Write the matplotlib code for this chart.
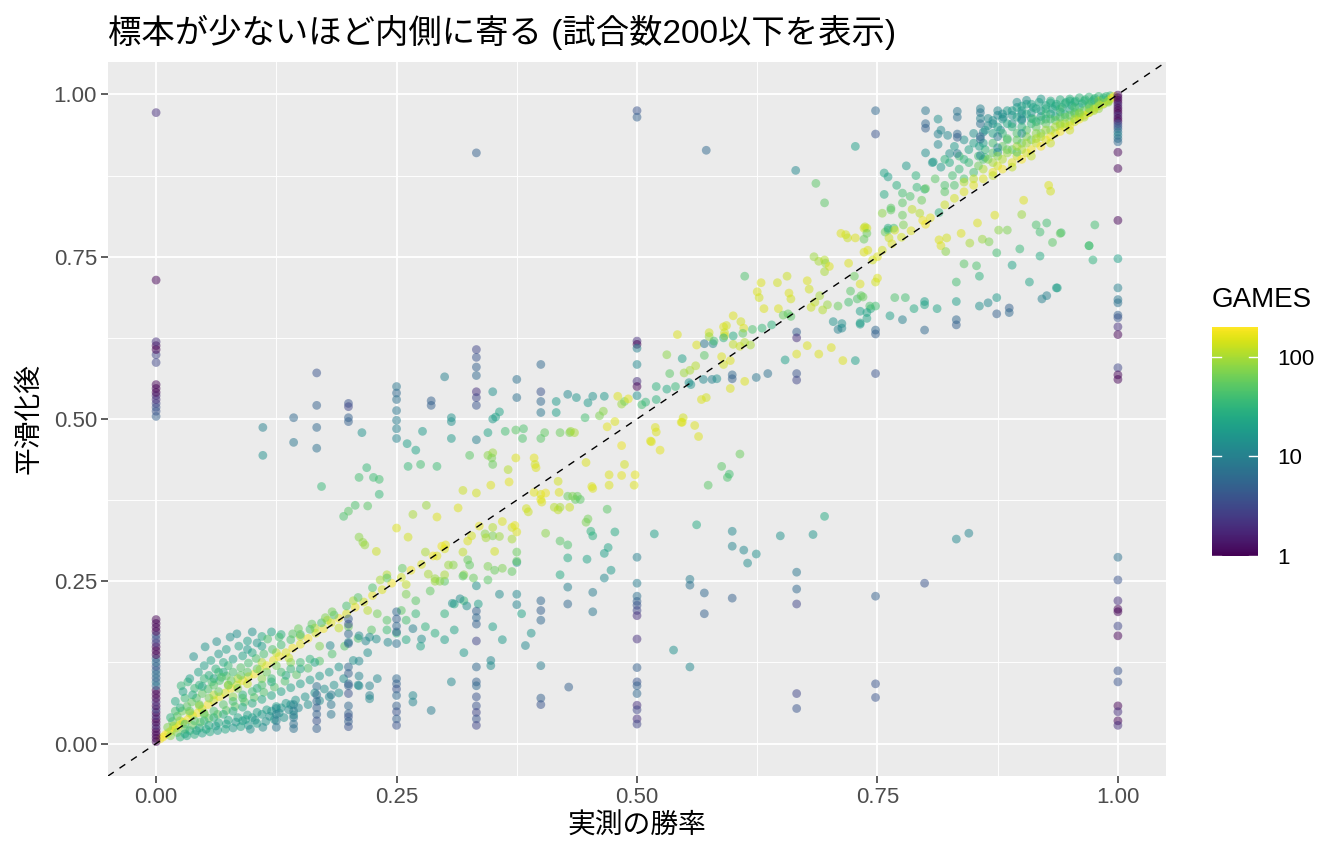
import numpy as np
import matplotlib.pyplot as plt
from matplotlib.colors import LogNorm
from matplotlib.cm import ScalarMappable

plt.rcParams['font.family'] = ['Liberation Sans', 'Noto Sans CJK JP']

# x = 0 column
col0_y = [0.003, 0.008, 0.013, 0.018, 0.023, 0.028, 0.033, 0.038, 0.043, 0.048, 0.053, 0.058,
          0.064, 0.070, 0.076, 0.082, 0.089, 0.095, 0.101, 0.107, 0.113, 0.119, 0.125, 0.131,
          0.137, 0.143, 0.149, 0.155, 0.161, 0.167, 0.173, 0.179, 0.185, 0.191,
          0.504, 0.512, 0.518, 0.524, 0.530, 0.536, 0.541, 0.547, 0.553, 0.587, 0.599, 0.607,
          0.613, 0.619, 0.714, 0.972]
col0_g = [1, 1, 1, 1, 1, 2, 1, 1, 2, 1, 3, 1, 2, 1, 1, 1, 6, 8, 5, 7, 6, 4, 7, 5, 1, 1, 1, 2,
          3, 4, 1, 1, 1, 1,
          5, 4, 4, 3, 2, 2, 1, 1, 1, 3, 3, 1, 1, 2, 1, 2]

# x = 1 column
col1_y = [0.999, 0.995, 0.991, 0.987, 0.983, 0.979, 0.975, 0.971, 0.967, 0.963,
          0.959, 0.955, 0.951, 0.947, 0.942, 0.937, 0.932, 0.927, 0.911, 0.886,
          0.806, 0.747, 0.702, 0.684, 0.679, 0.660, 0.656, 0.642, 0.630, 0.579,
          0.568, 0.561, 0.287, 0.252, 0.220, 0.207, 0.203, 0.181, 0.166, 0.112,
          0.095, 0.058, 0.049, 0.035, 0.028]
col1_g = [1, 1, 1, 1, 2, 1, 1, 1, 2, 1,
          1, 3, 4, 5, 8, 10, 7, 6, 1, 1,
          1, 20, 10, 8, 7, 5, 4, 2, 1, 3,
          1, 1, 7, 4, 2, 1, 1, 3, 1, 4,
          4, 1, 2, 1, 2]

# small-sample columns at simple fractions
cols = [
    (0.125, 0.054, 12), (0.125, 0.045, 10), (0.125, 0.035, 9), (0.125, 0.025, 8),
    (0.143, 0.060, 10), (0.143, 0.050, 9), (0.143, 0.040, 8), (0.143, 0.030, 7), (0.143, 0.023, 7),
    (0.143, 0.502, 6), (0.143, 0.464, 8), (0.111, 0.487, 10), (0.111, 0.444, 14),
    (0.167, 0.088, 7), (0.167, 0.075, 6), (0.167, 0.065, 6), (0.167, 0.055, 5), (0.167, 0.045, 5),
    (0.167, 0.035, 4), (0.167, 0.023, 5),
    (0.167, 0.571, 4), (0.167, 0.521, 5), (0.167, 0.487, 6), (0.167, 0.455, 7),
    (0.182, 0.075, 9), (0.182, 0.060, 8), (0.182, 0.045, 8),
    (0.2, 0.192, 5), (0.2, 0.184, 4), (0.2, 0.169, 6), (0.2, 0.154, 5), (0.2, 0.118, 6),
    (0.2, 0.108, 5), (0.2, 0.092, 6), (0.2, 0.089, 5), (0.2, 0.077, 4), (0.2, 0.058, 6),
    (0.2, 0.046, 5), (0.2, 0.041, 4), (0.2, 0.034, 5), (0.2, 0.026, 4),
    (0.2, 0.524, 4), (0.2, 0.519, 3), (0.2, 0.502, 5), (0.2, 0.496, 5),
    (0.211, 0.166, 12), (0.211, 0.127, 12), (0.211, 0.104, 11), (0.211, 0.089, 12),
    (0.222, 0.164, 13), (0.222, 0.089, 11), (0.222, 0.074, 10), (0.222, 0.069, 12),
    (0.25, 0.203, 6), (0.25, 0.192, 5), (0.25, 0.181, 6), (0.25, 0.172, 5), (0.25, 0.154, 7),
    (0.25, 0.100, 6), (0.25, 0.092, 5), (0.25, 0.084, 4), (0.25, 0.074, 6), (0.25, 0.058, 5),
    (0.25, 0.049, 4), (0.25, 0.038, 5), (0.25, 0.028, 4),
    (0.25, 0.550, 8), (0.25, 0.540, 6), (0.25, 0.530, 7), (0.25, 0.513, 8), (0.25, 0.498, 9),
    (0.25, 0.485, 10), (0.25, 0.470, 11),
    (0.267, 0.177, 10), (0.267, 0.074, 12), (0.267, 0.064, 11), (0.276, 0.161, 14),
    (0.286, 0.051, 9), (0.286, 0.528, 5), (0.286, 0.521, 5),
    (0.307, 0.095, 12), (0.308, 0.216, 15), (0.316, 0.223, 13), (0.323, 0.212, 14),
    (0.333, 0.204, 5), (0.333, 0.194, 6), (0.333, 0.184, 5), (0.333, 0.158, 3), (0.333, 0.118, 6),
    (0.333, 0.095, 5), (0.333, 0.089, 6), (0.333, 0.072, 4), (0.333, 0.058, 4), (0.333, 0.048, 3),
    (0.333, 0.038, 4), (0.333, 0.028, 3),
    (0.333, 0.607, 3), (0.333, 0.595, 4), (0.333, 0.580, 5), (0.333, 0.567, 6), (0.333, 0.542, 2),
    (0.333, 0.533, 3), (0.333, 0.521, 4), (0.333, 0.468, 10), (0.333, 0.910, 5),
    (0.348, 0.128, 12), (0.348, 0.120, 13), (0.357, 0.230, 13),
    (0.375, 0.230, 12), (0.375, 0.214, 11), (0.375, 0.561, 7), (0.375, 0.533, 7), (0.384, 0.151, 12),
    (0.4, 0.220, 6), (0.4, 0.205, 5), (0.4, 0.190, 6), (0.4, 0.120, 9), (0.4, 0.070, 5), (0.4, 0.060, 4),
    (0.4, 0.584, 6), (0.4, 0.542, 4), (0.4, 0.527, 6), (0.4, 0.510, 8),
    (0.429, 0.087, 5), (0.428, 0.241, 10), (0.428, 0.215, 6), (0.454, 0.233, 9), (0.454, 0.203, 8),
    (0.5, 0.975, 4), (0.5, 0.965, 5), (0.5, 0.620, 2), (0.5, 0.615, 1), (0.5, 0.609, 10),
    (0.5, 0.584, 12), (0.5, 0.558, 2), (0.5, 0.550, 1), (0.5, 0.536, 14),
    (0.5, 0.287, 10), (0.5, 0.247, 9), (0.5, 0.227, 7), (0.5, 0.219, 5), (0.5, 0.213, 4),
    (0.5, 0.205, 3), (0.5, 0.197, 2), (0.5, 0.161, 2), (0.5, 0.117, 5), (0.5, 0.095, 4),
    (0.5, 0.089, 5), (0.5, 0.077, 6), (0.5, 0.059, 2), (0.5, 0.052, 3), (0.5, 0.038, 2), (0.5, 0.030, 3),
    (0.538, 0.144, 14), (0.555, 0.253, 9), (0.555, 0.244, 7), (0.555, 0.118, 12),
    (0.57, 0.232, 6), (0.57, 0.200, 5), (0.599, 0.224, 5), (0.572, 0.914, 6),
    (0.666, 0.264, 8), (0.666, 0.238, 6), (0.666, 0.215, 3), (0.666, 0.077, 3), (0.666, 0.054, 4),
    (0.666, 0.634, 5), (0.666, 0.625, 2), (0.666, 0.570, 4), (0.666, 0.560, 3), (0.665, 0.883, 12),
    (0.748, 0.975, 6), (0.748, 0.939, 4), (0.748, 0.637, 6), (0.748, 0.631, 5), (0.748, 0.570, 4),
    (0.748, 0.227, 5), (0.748, 0.092, 4), (0.748, 0.071, 4),
    (0.8, 0.975, 8), (0.8, 0.955, 6), (0.8, 0.948, 5), (0.799, 0.247, 4),
    (0.813, 0.962, 14), (0.813, 0.939, 10), (0.813, 0.923, 12),
    (0.833, 0.974, 8), (0.833, 0.965, 7), (0.833, 0.939, 6), (0.833, 0.934, 5), (0.833, 0.909, 9),
    (0.832, 0.653, 6), (0.832, 0.645, 5), (0.832, 0.315, 12), (0.845, 0.324, 11),
    (0.857, 0.978, 10), (0.857, 0.972, 8), (0.857, 0.963, 11), (0.857, 0.955, 7), (0.857, 0.935, 6),
    (0.857, 0.931, 7), (0.857, 0.906, 12),
    (0.875, 0.975, 12), (0.875, 0.935, 9), (0.9, 0.970, 16), (0.9, 0.962, 12), (0.9, 0.940, 14),
    (0.881, 0.965, 14), (0.865, 0.963, 13), (0.816, 0.945, 12), (0.823, 0.937, 12),
]

# dense cloud near the origin
low_cloud = [
    (0.004, 0.007, 190), (0.007, 0.010, 180), (0.010, 0.014, 195), (0.013, 0.017, 170), (0.016, 0.020, 190),
    (0.020, 0.024, 160), (0.024, 0.028, 185), (0.028, 0.033, 170), (0.033, 0.037, 190), (0.038, 0.043, 150),
    (0.043, 0.047, 180), (0.048, 0.053, 160), (0.054, 0.060, 190), (0.060, 0.066, 140), (0.066, 0.072, 175),
    (0.072, 0.078, 150), (0.078, 0.085, 190), (0.084, 0.090, 130), (0.090, 0.097, 170), (0.096, 0.103, 150),
    (0.102, 0.107, 185), (0.108, 0.114, 140), (0.115, 0.120, 175), (0.122, 0.128, 160), (0.128, 0.134, 190),
    (0.135, 0.140, 150), (0.142, 0.147, 180), (0.150, 0.153, 160), (0.158, 0.162, 190), (0.166, 0.170, 140),
    (0.174, 0.177, 175), (0.182, 0.186, 160), (0.190, 0.193, 190), (0.198, 0.200, 150), (0.207, 0.210, 180),
    (0.216, 0.218, 140), (0.225, 0.228, 170), (0.235, 0.237, 150), (0.245, 0.247, 185), (0.255, 0.256, 140),
    (0.265, 0.267, 170), (0.276, 0.276, 150), (0.288, 0.289, 180), (0.300, 0.300, 150),
    (0.075, 0.090, 120), (0.085, 0.100, 110), (0.095, 0.092, 125), (0.110, 0.125, 115), (0.125, 0.140, 120),
    (0.138, 0.132, 130), (0.150, 0.165, 110), (0.165, 0.178, 115), (0.178, 0.190, 120), (0.190, 0.178, 125),
    (0.205, 0.220, 105), (0.220, 0.205, 115), (0.240, 0.260, 110), (0.260, 0.245, 120), (0.280, 0.295, 105),
    (0.060, 0.075, 115), (0.045, 0.058, 120), (0.035, 0.047, 130), (0.025, 0.035, 125), (0.018, 0.027, 130),
    (0.012, 0.025, 70), (0.017, 0.034, 60), (0.022, 0.042, 55), (0.027, 0.050, 65), (0.032, 0.057, 50),
    (0.037, 0.064, 58), (0.042, 0.070, 48), (0.048, 0.077, 55), (0.054, 0.084, 45), (0.060, 0.090, 52),
    (0.066, 0.097, 44), (0.073, 0.104, 50), (0.080, 0.110, 42), (0.088, 0.117, 48), (0.096, 0.124, 40),
    (0.104, 0.131, 46), (0.112, 0.138, 42), (0.121, 0.145, 45), (0.130, 0.152, 40), (0.140, 0.160, 44),
    (0.150, 0.168, 40), (0.160, 0.176, 42), (0.172, 0.186, 40), (0.185, 0.198, 45), (0.198, 0.212, 42),
    (0.210, 0.225, 48), (0.225, 0.240, 45), (0.240, 0.255, 50), (0.256, 0.270, 55), (0.020, 0.050, 40),
    (0.030, 0.070, 38), (0.040, 0.085, 36), (0.050, 0.100, 35), (0.065, 0.110, 38), (0.075, 0.120, 36),
    (0.026, 0.089, 35), (0.033, 0.095, 34),
    (0.015, 0.012, 75), (0.022, 0.017, 70), (0.030, 0.022, 65), (0.038, 0.028, 62), (0.046, 0.033, 60),
    (0.055, 0.039, 58), (0.064, 0.045, 55), (0.073, 0.051, 52), (0.082, 0.057, 50), (0.092, 0.064, 48),
    (0.102, 0.071, 50), (0.112, 0.079, 46), (0.123, 0.087, 48), (0.134, 0.096, 45), (0.146, 0.106, 50),
    (0.158, 0.116, 46), (0.170, 0.127, 48), (0.183, 0.138, 45), (0.196, 0.150, 48), (0.210, 0.162, 45),
    (0.224, 0.175, 50), (0.240, 0.190, 48), (0.255, 0.205, 52), (0.270, 0.220, 50), (0.285, 0.235, 55),
    (0.300, 0.250, 50), (0.200, 0.180, 60), (0.230, 0.200, 65), (0.260, 0.230, 70), (0.170, 0.150, 70),
    (0.140, 0.125, 75), (0.110, 0.100, 80), (0.080, 0.072, 80), (0.050, 0.047, 85),
    (0.020, 0.065, 25), (0.028, 0.080, 22), (0.035, 0.100, 20), (0.039, 0.134, 15), (0.044, 0.110, 22),
    (0.051, 0.149, 16), (0.050, 0.120, 20), (0.057, 0.128, 22), (0.063, 0.157, 14), (0.065, 0.138, 18),
    (0.073, 0.145, 20), (0.077, 0.164, 15), (0.084, 0.169, 14), (0.086, 0.150, 22), (0.100, 0.172, 15),
    (0.095, 0.158, 20), (0.110, 0.165, 25), (0.120, 0.172, 22), (0.130, 0.168, 28), (0.055, 0.105, 28),
    (0.070, 0.125, 25), (0.045, 0.090, 30), (0.062, 0.115, 30),
    (0.025, 0.010, 30), (0.032, 0.012, 25), (0.040, 0.014, 28), (0.048, 0.016, 22), (0.056, 0.018, 25),
    (0.064, 0.020, 20), (0.072, 0.022, 24), (0.080, 0.024, 18), (0.088, 0.026, 22), (0.096, 0.028, 18),
    (0.105, 0.031, 20), (0.114, 0.034, 16), (0.123, 0.037, 18), (0.133, 0.040, 15), (0.143, 0.044, 16),
    (0.035, 0.020, 30), (0.045, 0.024, 28), (0.055, 0.028, 26), (0.065, 0.032, 25), (0.075, 0.036, 24),
    (0.085, 0.040, 23), (0.095, 0.044, 22), (0.105, 0.048, 21), (0.115, 0.052, 20), (0.125, 0.057, 19),
    (0.135, 0.062, 18), (0.145, 0.067, 17), (0.155, 0.072, 16), (0.165, 0.078, 15), (0.175, 0.084, 14),
    (0.185, 0.090, 15), (0.195, 0.100, 14), (0.050, 0.035, 30), (0.060, 0.040, 29), (0.070, 0.045, 28),
    (0.080, 0.050, 27), (0.090, 0.056, 26), (0.100, 0.062, 25), (0.110, 0.068, 24), (0.120, 0.074, 23),
    (0.130, 0.080, 22), (0.140, 0.086, 21), (0.150, 0.092, 20), (0.160, 0.098, 19), (0.170, 0.104, 18),
    (0.180, 0.110, 17), (0.190, 0.118, 16), (0.205, 0.128, 15), (0.220, 0.140, 14), (0.181, 0.151, 12),
    (0.200, 0.156, 13), (0.218, 0.158, 12), (0.229, 0.161, 14), (0.241, 0.156, 12), (0.090, 0.035, 20),
    (0.100, 0.040, 19), (0.110, 0.045, 18), (0.120, 0.050, 17), (0.130, 0.055, 16), (0.140, 0.060, 15),
    (0.098, 0.022, 14), (0.111, 0.025, 13), (0.090, 0.075, 30), (0.105, 0.085, 28), (0.120, 0.095, 26),
    (0.135, 0.105, 25), (0.150, 0.115, 24), (0.165, 0.125, 22),
    (0.116, 0.161, 45), (0.128, 0.164, 40), (0.142, 0.169, 50), (0.148, 0.177, 60), (0.162, 0.184, 55),
    (0.176, 0.194, 70), (0.183, 0.203, 65), (0.300, 0.200, 30), (0.310, 0.215, 25), (0.320, 0.220, 35),
    (0.335, 0.215, 20), (0.290, 0.250, 90), (0.300, 0.260, 100), (0.320, 0.260, 80), (0.330, 0.255, 60),
    (0.345, 0.252, 50), (0.360, 0.270, 70), (0.370, 0.265, 55), (0.375, 0.279, 15), (0.260, 0.190, 40),
    (0.270, 0.200, 35), (0.280, 0.180, 30), (0.290, 0.170, 28), (0.250, 0.170, 32), (0.240, 0.175, 38),
    (0.260, 0.160, 25), (0.275, 0.150, 22), (0.300, 0.160, 20), (0.310, 0.175, 22), (0.320, 0.140, 18),
    (0.350, 0.180, 20), (0.360, 0.160, 18), (0.380, 0.200, 22), (0.390, 0.170, 16), (0.420, 0.260, 25),
]

# more of the crowded mass near the origin
low_fill = [
    (0.030, 0.030, 40), (0.040, 0.035, 45), (0.050, 0.045, 50), (0.060, 0.050, 42), (0.070, 0.060, 48),
    (0.080, 0.065, 40), (0.090, 0.070, 44), (0.100, 0.080, 38), (0.110, 0.090, 42), (0.120, 0.100, 36),
    (0.130, 0.110, 40), (0.140, 0.115, 34), (0.150, 0.125, 38), (0.160, 0.130, 32), (0.035, 0.050, 55),
    (0.045, 0.060, 60), (0.055, 0.070, 65), (0.065, 0.080, 55), (0.075, 0.090, 60), (0.085, 0.085, 70),
    (0.095, 0.110, 50), (0.105, 0.115, 55), (0.115, 0.110, 60), (0.125, 0.120, 65), (0.030, 0.015, 25),
    (0.042, 0.020, 22), (0.052, 0.022, 24), (0.062, 0.027, 20), (0.073, 0.030, 22), (0.083, 0.033, 18),
    (0.093, 0.037, 20), (0.103, 0.036, 16), (0.118, 0.042, 15), (0.128, 0.047, 14), (0.138, 0.052, 13),
    (0.148, 0.055, 12), (0.158, 0.060, 14), (0.170, 0.066, 13), (0.180, 0.072, 12), (0.190, 0.078, 14),
    (0.210, 0.090, 13), (0.230, 0.100, 12), (0.060, 0.100, 24), (0.070, 0.110, 26), (0.080, 0.130, 20),
    (0.090, 0.135, 22), (0.100, 0.140, 25), (0.110, 0.150, 20), (0.095, 0.145, 18), (0.105, 0.155, 17),
    (0.015, 0.040, 30), (0.025, 0.055, 28), (0.038, 0.075, 26), (0.048, 0.088, 24), (0.058, 0.095, 40),
    (0.068, 0.102, 44), (0.078, 0.097, 60), (0.088, 0.105, 55),
]

# points along the diagonal in the middle range
mid = [
    (0.172, 0.396, 35), (0.195, 0.350, 45), (0.200, 0.358, 50), (0.207, 0.367, 45), (0.220, 0.366, 50),
    (0.211, 0.410, 40), (0.226, 0.410, 38), (0.232, 0.407, 40), (0.232, 0.384, 35), (0.219, 0.425, 35),
    (0.214, 0.479, 15), (0.211, 0.318, 80), (0.215, 0.310, 85), (0.217, 0.306, 90), (0.229, 0.296, 130),
    (0.250, 0.332, 150), (0.262, 0.318, 140), (0.267, 0.353, 100), (0.281, 0.367, 90), (0.292, 0.349, 150),
    (0.261, 0.462, 20), (0.270, 0.452, 22), (0.262, 0.427, 35), (0.275, 0.430, 40), (0.292, 0.427, 38),
    (0.277, 0.481, 18), (0.300, 0.565, 10), (0.307, 0.502, 15), (0.307, 0.496, 14), (0.307, 0.470, 18),
    (0.350, 0.542, 14), (0.350, 0.500, 18), (0.353, 0.503, 20), (0.357, 0.511, 22), (0.345, 0.479, 22),
    (0.326, 0.444, 50), (0.345, 0.444, 80), (0.350, 0.448, 90), (0.349, 0.440, 70), (0.350, 0.430, 60),
    (0.363, 0.481, 40), (0.374, 0.483, 50), (0.382, 0.485, 45), (0.416, 0.527, 18), (0.416, 0.510, 20),
    (0.428, 0.538, 12), (0.437, 0.533, 16), (0.449, 0.525, 18), (0.454, 0.535, 15), (0.466, 0.535, 17),
    (0.446, 0.502, 40), (0.430, 0.479, 70), (0.420, 0.479, 60), (0.404, 0.479, 55), (0.431, 0.481, 90),
    (0.435, 0.479, 100), (0.381, 0.470, 45), (0.400, 0.470, 50), (0.374, 0.440, 150), (0.393, 0.440, 160),
    (0.394, 0.430, 140), (0.366, 0.422, 110), (0.348, 0.398, 150), (0.367, 0.403, 160), (0.333, 0.386, 140),
    (0.319, 0.390, 130), (0.314, 0.363, 150), (0.301, 0.306, 160), (0.297, 0.304, 170), (0.292, 0.289, 150),
    (0.319, 0.295, 120), (0.328, 0.320, 140), (0.324, 0.312, 150), (0.336, 0.335, 160), (0.342, 0.323, 80),
    (0.350, 0.320, 70), (0.357, 0.319, 90), (0.343, 0.317, 100), (0.350, 0.333, 110), (0.360, 0.342, 150),
    (0.370, 0.333, 140), (0.373, 0.336, 160), (0.375, 0.326, 150), (0.385, 0.362, 140), (0.387, 0.357, 130),
    (0.352, 0.296, 140), (0.370, 0.315, 100), (0.375, 0.295, 60), (0.375, 0.281, 55), (0.345, 0.273, 70),
    (0.352, 0.267, 60), (0.304, 0.275, 90), (0.309, 0.275, 80), (0.324, 0.283, 60), (0.326, 0.275, 55),
    (0.319, 0.258, 50), (0.283, 0.261, 100), (0.290, 0.254, 90), (0.295, 0.250, 80), (0.233, 0.252, 100),
    (0.333, 0.243, 15), (0.395, 0.425, 150), (0.393, 0.387, 160), (0.400, 0.384, 150), (0.405, 0.386, 170),
    (0.400, 0.376, 160), (0.401, 0.372, 150), (0.418, 0.404, 140), (0.419, 0.387, 150), (0.428, 0.381, 60),
    (0.436, 0.376, 55), (0.441, 0.376, 50), (0.414, 0.364, 110), (0.418, 0.360, 120), (0.420, 0.364, 100),
    (0.430, 0.364, 130), (0.405, 0.324, 80), (0.420, 0.312, 50), (0.428, 0.306, 45), (0.428, 0.286, 25),
    (0.448, 0.284, 22), (0.447, 0.341, 70), (0.449, 0.346, 65), (0.452, 0.327, 30), (0.454, 0.320, 28),
    (0.466, 0.293, 20), (0.470, 0.302, 22), (0.473, 0.267, 18), (0.466, 0.255, 12), (0.453, 0.396, 150),
    (0.469, 0.361, 50), (0.471, 0.414, 150), (0.487, 0.430, 140), (0.498, 0.414, 160), (0.477, 0.326, 25),
    (0.518, 0.323, 20), (0.562, 0.337, 25), (0.574, 0.398, 50), (0.588, 0.427, 50), (0.594, 0.410, 45),
    (0.596, 0.415, 40), (0.607, 0.446, 60), (0.515, 0.465, 150), (0.524, 0.452, 160), (0.520, 0.480, 150),
    (0.484, 0.459, 170), (0.484, 0.413, 160), (0.447, 0.433, 150), (0.477, 0.496, 150), (0.469, 0.488, 160),
    (0.465, 0.512, 80), (0.461, 0.505, 70), (0.484, 0.523, 90), (0.487, 0.527, 70), (0.480, 0.535, 150),
    (0.491, 0.531, 160), (0.505, 0.522, 40), (0.509, 0.526, 35), (0.520, 0.530, 30), (0.531, 0.599, 80),
    (0.542, 0.630, 150), (0.547, 0.593, 20), (0.534, 0.570, 50), (0.549, 0.571, 90), (0.555, 0.575, 100),
    (0.561, 0.582, 110), (0.562, 0.614, 150), (0.570, 0.616, 8), (0.579, 0.616, 12), (0.570, 0.598, 50),
    (0.575, 0.633, 140), (0.591, 0.628, 150), (0.588, 0.596, 150), (0.520, 0.550, 30), (0.531, 0.546, 25),
    (0.540, 0.550, 35), (0.554, 0.556, 14), (0.556, 0.553, 15), (0.567, 0.530, 150), (0.572, 0.533, 140),
    (0.569, 0.561, 12), (0.578, 0.561, 10), (0.583, 0.562, 14), (0.547, 0.495, 150), (0.548, 0.502, 140),
    (0.560, 0.490, 150), (0.564, 0.473, 150), (0.590, 0.584, 140), (0.597, 0.590, 150), (0.519, 0.487, 150),
    (0.546, 0.495, 150), (0.514, 0.466, 150), (0.471, 0.398, 150), (0.497, 0.398, 150), (0.454, 0.393, 150),
    (0.433, 0.381, 70), (0.438, 0.381, 60), (0.599, 0.327, 12), (0.599, 0.304, 11), (0.611, 0.298, 12),
    (0.624, 0.292, 14), (0.615, 0.278, 13), (0.649, 0.320, 15), (0.683, 0.322, 16), (0.695, 0.350, 25),
    (0.612, 0.720, 45), (0.629, 0.710, 150), (0.646, 0.710, 140), (0.656, 0.720, 130), (0.625, 0.696, 150),
    (0.627, 0.687, 140), (0.658, 0.694, 150), (0.660, 0.685, 140), (0.677, 0.713, 150), (0.679, 0.700, 140),
    (0.632, 0.670, 150), (0.647, 0.670, 150), (0.600, 0.659, 150), (0.608, 0.650, 140), (0.611, 0.640, 150),
    (0.590, 0.642, 150), (0.593, 0.644, 140), (0.591, 0.633, 130), (0.575, 0.627, 90), (0.580, 0.620, 40),
    (0.590, 0.625, 30), (0.600, 0.628, 25), (0.610, 0.632, 50), (0.620, 0.638, 45), (0.630, 0.640, 35),
    (0.640, 0.645, 30), (0.652, 0.660, 60), (0.657, 0.662, 55), (0.660, 0.658, 50), (0.600, 0.615, 120),
    (0.607, 0.612, 130), (0.612, 0.618, 110), (0.618, 0.614, 100), (0.681, 0.672, 130), (0.685, 0.680, 120),
    (0.690, 0.690, 100), (0.693, 0.668, 110), (0.698, 0.676, 90), (0.704, 0.650, 15), (0.713, 0.640, 12),
    (0.709, 0.638, 10), (0.713, 0.647, 14), (0.709, 0.674, 60), (0.732, 0.666, 20), (0.732, 0.646, 18),
    (0.739, 0.655, 22), (0.743, 0.670, 25), (0.722, 0.697, 50), (0.729, 0.685, 45), (0.733, 0.690, 55),
    (0.720, 0.680, 40), (0.689, 0.600, 150), (0.666, 0.600, 150), (0.714, 0.590, 150), (0.727, 0.590, 20),
    (0.654, 0.591, 20), (0.624, 0.564, 8), (0.636, 0.570, 7), (0.599, 0.568, 6), (0.599, 0.562, 5),
    (0.597, 0.547, 150), (0.612, 0.558, 150), (0.677, 0.613, 150), (0.702, 0.610, 150), (0.763, 0.659, 20),
    (0.712, 0.786, 150), (0.717, 0.784, 140), (0.719, 0.779, 130), (0.727, 0.779, 150), (0.736, 0.777, 60),
    (0.736, 0.794, 150), (0.739, 0.794, 140), (0.758, 0.788, 60), (0.761, 0.791, 50), (0.767, 0.794, 40),
    (0.684, 0.750, 90), (0.689, 0.743, 100), (0.695, 0.745, 110), (0.696, 0.740, 90), (0.700, 0.735, 150),
    (0.695, 0.727, 100), (0.726, 0.720, 60), (0.720, 0.740, 150), (0.740, 0.760, 150), (0.745, 0.745, 140),
    (0.750, 0.750, 150), (0.755, 0.760, 140), (0.765, 0.770, 150), (0.775, 0.780, 140), (0.785, 0.790, 150),
    (0.686, 0.863, 50), (0.695, 0.833, 50), (0.727, 0.920, 20),
    (0.928, 0.860, 150), (0.930, 0.851, 140), (0.902, 0.837, 150), (0.872, 0.814, 150), (0.900, 0.815, 90),
    (0.854, 0.802, 150), (0.876, 0.791, 80), (0.885, 0.791, 70), (0.915, 0.799, 45), (0.926, 0.802, 40),
    (0.919, 0.788, 40), (0.941, 0.787, 40), (0.976, 0.799, 40), (0.970, 0.767, 40), (0.932, 0.772, 50),
    (0.898, 0.762, 35), (0.919, 0.751, 25), (0.874, 0.756, 40), (0.859, 0.777, 90), (0.866, 0.773, 70),
    (0.846, 0.771, 100), (0.837, 0.786, 150), (0.814, 0.776, 150), (0.822, 0.779, 140), (0.816, 0.767, 150),
    (0.821, 0.758, 80), (0.840, 0.739, 50), (0.853, 0.736, 45), (0.856, 0.720, 30), (0.890, 0.737, 22),
    (0.832, 0.711, 40), (0.908, 0.711, 22), (0.936, 0.702, 18), (0.921, 0.685, 10), (0.926, 0.690, 10),
    (0.874, 0.687, 18), (0.865, 0.679, 12), (0.856, 0.674, 14), (0.887, 0.671, 5), (0.887, 0.664, 6),
    (0.874, 0.662, 5), (0.832, 0.681, 20), (0.812, 0.670, 22), (0.799, 0.681, 20), (0.799, 0.676, 22),
    (0.788, 0.670, 25), (0.779, 0.687, 40), (0.768, 0.687, 45), (0.776, 0.653, 10), (0.799, 0.637, 6),
    (0.742, 0.674, 45), (0.748, 0.674, 40), (0.739, 0.664, 22), (0.732, 0.648, 20), (0.750, 0.717, 150),
    (0.748, 0.711, 140), (0.732, 0.708, 150), (0.735, 0.688, 60), (0.937, 0.702, 20), (0.940, 0.786, 55),
    (0.970, 0.767, 40), (0.974, 0.745, 30),
]

# dense cloud near (1, 1)
high_cloud = [
    (0.870, 0.955, 14), (0.880, 0.962, 16), (0.885, 0.975, 18), (0.890, 0.968, 15), (0.895, 0.980, 20),
    (0.900, 0.975, 18), (0.905, 0.985, 22), (0.910, 0.972, 16), (0.912, 0.980, 20), (0.918, 0.988, 24),
    (0.920, 0.975, 18), (0.925, 0.983, 22), (0.930, 0.990, 26), (0.932, 0.978, 20), (0.936, 0.985, 24),
    (0.940, 0.992, 28), (0.942, 0.980, 22), (0.946, 0.988, 26), (0.950, 0.993, 30), (0.952, 0.983, 24),
    (0.956, 0.990, 28), (0.960, 0.995, 32), (0.963, 0.986, 26), (0.966, 0.992, 30), (0.970, 0.996, 34),
    (0.973, 0.989, 28), (0.976, 0.994, 32), (0.980, 0.997, 36), (0.984, 0.992, 30), (0.988, 0.997, 34),
    (0.992, 0.998, 38), (0.878, 0.945, 12), (0.890, 0.955, 14), (0.900, 0.960, 16), (0.910, 0.963, 17),
    (0.920, 0.966, 19), (0.930, 0.970, 21), (0.940, 0.973, 22), (0.950, 0.977, 24), (0.960, 0.980, 26),
    (0.970, 0.983, 28), (0.980, 0.987, 30), (0.990, 0.992, 35), (0.895, 0.988, 14), (0.905, 0.991, 15),
    (0.920, 0.993, 18), (0.865, 0.952, 13), (0.875, 0.968, 12), (0.860, 0.942, 11), (0.915, 0.958, 20),
    (0.925, 0.962, 22), (0.935, 0.966, 24), (0.945, 0.969, 26), (0.955, 0.972, 28),
    (0.860, 0.900, 45), (0.870, 0.910, 50), (0.880, 0.920, 55), (0.885, 0.930, 48), (0.890, 0.915, 60),
    (0.895, 0.940, 45), (0.900, 0.925, 55), (0.905, 0.945, 50), (0.910, 0.930, 62), (0.915, 0.950, 52),
    (0.920, 0.940, 65), (0.925, 0.955, 55), (0.930, 0.945, 70), (0.935, 0.960, 58), (0.940, 0.952, 72),
    (0.945, 0.965, 60), (0.950, 0.958, 75), (0.955, 0.970, 62), (0.960, 0.965, 78), (0.965, 0.975, 65),
    (0.970, 0.972, 80), (0.975, 0.980, 70), (0.980, 0.978, 85), (0.985, 0.985, 75), (0.990, 0.990, 80),
    (0.850, 0.880, 40), (0.840, 0.870, 42), (0.855, 0.905, 38), (0.870, 0.925, 40), (0.880, 0.940, 35),
    (0.890, 0.950, 32), (0.912, 0.962, 40), (0.925, 0.970, 38), (0.940, 0.978, 42), (0.955, 0.980, 45),
    (0.970, 0.985, 48), (0.830, 0.860, 45), (0.820, 0.850, 50), (0.845, 0.895, 36), (0.862, 0.915, 34),
    (0.820, 0.830, 130), (0.830, 0.840, 140), (0.840, 0.850, 150), (0.850, 0.860, 160), (0.860, 0.870, 150),
    (0.870, 0.880, 170), (0.875, 0.890, 140), (0.880, 0.885, 180), (0.890, 0.895, 160), (0.895, 0.905, 130),
    (0.900, 0.900, 190), (0.905, 0.910, 150), (0.910, 0.915, 180), (0.915, 0.925, 130), (0.920, 0.920, 190),
    (0.925, 0.930, 160), (0.930, 0.935, 180), (0.935, 0.940, 140), (0.940, 0.943, 190), (0.945, 0.950, 150),
    (0.950, 0.952, 180), (0.955, 0.958, 140), (0.960, 0.962, 190), (0.965, 0.968, 150), (0.970, 0.972, 185),
    (0.975, 0.977, 160), (0.980, 0.982, 190), (0.985, 0.986, 170), (0.990, 0.990, 195), (0.993, 0.994, 180),
    (0.996, 0.997, 190), (0.880, 0.900, 110), (0.900, 0.915, 105), (0.920, 0.935, 110), (0.940, 0.955, 105),
    (0.960, 0.970, 110), (0.980, 0.990, 115), (0.870, 0.875, 120), (0.890, 0.888, 120), (0.910, 0.905, 125),
    (0.930, 0.925, 130), (0.950, 0.945, 135),
    (0.808, 0.896, 20), (0.757, 0.879, 22), (0.761, 0.873, 20), (0.757, 0.846, 25), (0.776, 0.848, 40),
    (0.784, 0.843, 45), (0.776, 0.833, 50), (0.791, 0.857, 35), (0.799, 0.854, 30), (0.764, 0.822, 55),
    (0.764, 0.825, 50), (0.755, 0.817, 80), (0.776, 0.814, 60), (0.786, 0.823, 120), (0.794, 0.817, 110),
    (0.796, 0.837, 60), (0.777, 0.799, 70), (0.761, 0.794, 25), (0.768, 0.791, 140), (0.762, 0.779, 130),
    (0.737, 0.796, 120), (0.739, 0.786, 60), (0.736, 0.757, 150), (0.797, 0.806, 170), (0.805, 0.810, 160),
    (0.800, 0.800, 180), (0.814, 0.818, 30), (0.820, 0.860, 45), (0.828, 0.875, 40), (0.835, 0.885, 35),
    (0.825, 0.895, 25), (0.840, 0.900, 30), (0.845, 0.915, 22), (0.850, 0.925, 20), (0.835, 0.905, 38),
    (0.810, 0.870, 50), (0.800, 0.855, 55), (0.790, 0.875, 30), (0.770, 0.860, 28), (0.780, 0.890, 18),
    (0.840, 0.930, 15), (0.830, 0.920, 18), (0.850, 0.940, 14), (0.862, 0.945, 16), (0.800, 0.910, 14),
    (0.807, 0.895, 16), (0.816, 0.888, 18), (0.825, 0.909, 15), (0.820, 0.900, 30), (0.856, 0.920, 20),
    (0.862, 0.903, 35), (0.875, 0.918, 12), (0.875, 0.911, 14), (0.885, 0.932, 45), (0.895, 0.911, 50),
]

# more of the crowded mass near (1, 1)
high_fill = [
    (0.860, 0.925, 20), (0.870, 0.940, 22), (0.875, 0.950, 20), (0.885, 0.955, 24), (0.895, 0.965, 22),
    (0.905, 0.970, 26), (0.915, 0.978, 24), (0.925, 0.978, 28), (0.935, 0.982, 26), (0.945, 0.986, 30),
    (0.955, 0.988, 28), (0.965, 0.990, 32), (0.975, 0.992, 30), (0.985, 0.995, 34), (0.900, 0.950, 30),
    (0.910, 0.955, 35), (0.920, 0.960, 40), (0.930, 0.962, 45), (0.940, 0.965, 50), (0.950, 0.968, 55),
    (0.960, 0.972, 60), (0.970, 0.978, 65), (0.980, 0.983, 70), (0.990, 0.988, 75), (0.905, 0.935, 70),
    (0.915, 0.940, 80), (0.925, 0.945, 90), (0.935, 0.950, 100), (0.945, 0.955, 95), (0.955, 0.962, 100),
    (0.965, 0.965, 110), (0.975, 0.975, 100), (0.885, 0.910, 90), (0.895, 0.920, 100), (0.905, 0.925, 95),
    (0.915, 0.932, 105), (0.870, 0.895, 100), (0.860, 0.885, 110), (0.850, 0.870, 120), (0.840, 0.865, 110),
    (0.855, 0.890, 60), (0.865, 0.900, 70), (0.875, 0.905, 80), (0.885, 0.915, 60), (0.895, 0.930, 55),
    (0.880, 0.970, 15), (0.870, 0.960, 14), (0.890, 0.975, 18), (0.900, 0.982, 20), (0.910, 0.985, 22),
    (0.930, 0.987, 25), (0.950, 0.990, 27),
]

# ---------------- plotting ----------------

groups = [low_cloud, low_fill, mid, high_cloud, high_fill, cols]
xs = [p[0] for grp in groups for p in grp] + [0.0] * len(col0_y) + [1.0] * len(col1_y)
ys = [p[1] for grp in groups for p in grp] + col0_y + col1_y
gs = [p[2] for grp in groups for p in grp] + col0_g + col1_g

norm = LogNorm(vmin=1, vmax=200)
cmap = plt.get_cmap('viridis')

W, H = 1344, 864
fig = plt.figure(figsize=(W / 100, H / 100), dpi=100)
ax = fig.add_axes([108 / W, 1 - 776 / H, (1166 - 108) / W, (776 - 62) / H])
ax.set_facecolor('#EBEBEB')
for s in ax.spines.values():
    s.set_visible(False)

ax.set_xlim(-0.05, 1.05)
ax.set_ylim(-0.05, 1.05)
ticks = [0, 0.25, 0.5, 0.75, 1.0]
ax.set_xticks(ticks)
ax.set_yticks(ticks)
ax.set_xticklabels([f'{t:.2f}' for t in ticks])
ax.set_yticklabels([f'{t:.2f}' for t in ticks])
ax.set_xticks([0.125, 0.375, 0.625, 0.875], minor=True)
ax.set_yticks([0.125, 0.375, 0.625, 0.875], minor=True)
ax.grid(which='major', color='white', lw=1.3)
ax.grid(which='minor', color='white', lw=0.65)
ax.set_axisbelow(True)
ax.tick_params(which='major', length=5, width=1.1, color='#333333', labelsize=16,
               labelcolor='#4D4D4D', pad=3)
ax.tick_params(which='minor', length=0)

ax.scatter(xs, ys, c=gs, cmap=cmap, norm=norm, s=40, alpha=0.5, linewidths=0, zorder=2)
ax.axline((0, 0), slope=1, color='black', lw=1.0, ls=(0, (5, 5)), zorder=3)

ax.set_xlabel('実測の勝率', fontsize=20, labelpad=4)
ax.set_ylabel('平滑化後', fontsize=20, labelpad=8)

fig.text(108 / W, 1 - 32 / H, '標本が少ないほど内側に寄る (試合数200以下を表示)',
         fontsize=24, ha='left', va='center')

# colour bar legend
cax = fig.add_axes([1212 / W, 1 - 556 / H, 46 / W, 229 / H])
cb = fig.colorbar(ScalarMappable(norm=norm, cmap=cmap), cax=cax)
cb.outline.set_visible(False)
cb.set_ticks([1, 10, 100])
cb.set_ticklabels(['1', '10', '100'])
cb.minorticks_off()
cax.tick_params(length=0, labelsize=16, pad=14)
for v in [1, 10, 100]:
    cax.axhline(v, xmin=0, xmax=0.2, color='white', lw=1)
    cax.axhline(v, xmin=0.8, xmax=1, color='white', lw=1)
fig.text(1212 / W, 1 - 300 / H, 'GAMES', fontsize=20, ha='left', va='center')

fig.savefig('out.png', dpi=100)
